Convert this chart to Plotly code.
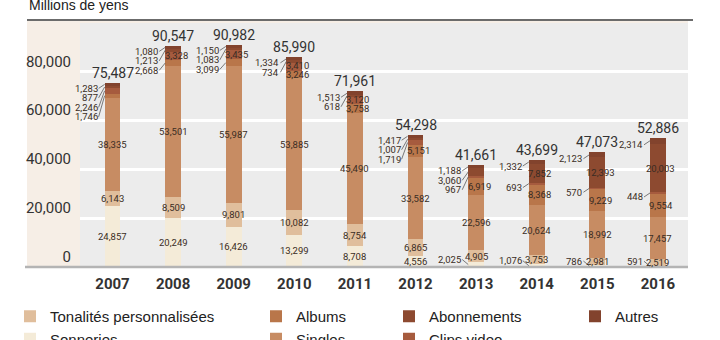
import plotly.graph_objects as go

# ---------------- data ----------------
years = [2007, 2008, 2009, 2010, 2011, 2012, 2013, 2014, 2015, 2016]
year_labels = ["2007", "2008", "2009", "2010", "2011", "2012", "2013", "2014", "2015", "2016"]
sonneries = [24857, 20249, 16426, 13299, 8708, 4556, 2025, 1076, 786, 591]
tonalites = [6143, 8509, 9801, 10082, 8754, 6865, 4905, 3753, 2981, 2519]
singles = [38335, 53501, 55987, 53885, 45490, 33582, 22596, 20624, 18992, 17457]
albums = [1746, 2668, 3099, 3246, 3758, 5151, 6919, 8368, 9229, 9554]
clips = [2246, 3328, 3435, 3410, 3120, 1719, 967, 693, 570, 448]
abonnements = [877, 1213, 1083, 734, 618, 1007, 3060, 7852, 12393, 20003]
autres = [1283, 1080, 1150, 1334, 1513, 1417, 1188, 1332, 2123, 2314]
totals = [75487, 90547, 90982, 85990, 71961, 54298, 41661, 43699, 47073, 52886]
y_ticks = [0, 20000, 40000, 60000, 80000]
y_tick_labels = ["0", "20,000", "40,000", "60,000", "80,000"]

# ---------------- style ----------------
W, H = 720, 340
M_L, M_R, M_T, M_B = 80, 32, 23, 73
PLOT_H = H - M_T - M_B
PW = W - M_L - M_R
YMAX = 100000
X0, X1 = 2006.4637, 2016.4967
BAR_W = 0.26
NUMFONT = "Roboto, sans-serif"
LABEL_COLOR = "#3a2c24"
LEADER_COLOR = "#5a5a5a"

series = [
    ("Sonneries", sonneries, "#f4ebd8", "legend"),
    ("Tonalités personnalisées", tonalites, "#e0be9c", "legend"),
    ("Singles", singles, "#c78c63", "legend2"),
    ("Albums", albums, "#b9764a", "legend2"),
    ("Clips video", clips, "#a65b3e", "legend3"),
    ("Abonnements", abonnements, "#8d4a30", "legend3"),
    ("Autres", autres, "#82432d", "legend4"),
]

fig = go.Figure()
for name, vals, color, lg in series:
    fig.add_trace(go.Bar(
        x=years, y=vals, name=name, width=BAR_W,
        marker=dict(color=color, line=dict(width=0)),
        legend=lg, hoverinfo="skip",
    ))


def ypx(v):
    return M_T + PLOT_H - v * PLOT_H / YMAX


def fmt(v):
    return f"{v:,}"


annotations = []
seg_font = dict(family=NUMFONT, size=9.5, color=LABEL_COLOR)

for i, yr in enumerate(years):
    bar_left = yr - BAR_W / 2
    # lower segments
    base = 0
    lower = [sonneries[i], tonalites[i], singles[i]]
    for k, v in enumerate(lower):
        mid = base + v / 2
        if k == 0 and v < 3100:
            annotations.append(dict(
                x=bar_left, y=mid, text=fmt(v), showarrow=True, arrowhead=0,
                arrowwidth=0.8, arrowcolor=LEADER_COLOR, standoff=0,
                ax=-6, ay=-5, xanchor="right", font=seg_font, borderpad=0))
        else:
            annotations.append(dict(x=yr, y=mid, text=fmt(v), showarrow=False,
                                    font=seg_font, borderpad=0))
        base += v
    # upper segments
    upper = [albums[i], clips[i], abonnements[i], autres[i]]
    mids = []
    for v in upper:
        mids.append(base + v / 2)
        base += v
    # inside labels (bottom-up, keep a minimum gap)
    prev_in = None
    for v, mid in zip(upper, mids):
        if v >= 3100:
            mp = ypx(mid)
            shift = 0
            if prev_in is not None and prev_in - mp < 9.5:
                shift = (prev_in - 9.5) - mp
            prev_in = mp + shift
            annotations.append(dict(x=yr, y=mid, text=fmt(v), showarrow=False,
                                    xshift=3, yshift=-shift, font=seg_font, borderpad=0))
    # leader labels (top-down)
    prev = None
    for v, mid in reversed(list(zip(upper, mids))):
        if v < 3100:
            mp = ypx(mid)
            lp = mp + 4 if prev is None else max(mp + 4, prev + 9.5)
            prev = lp
            annotations.append(dict(
                x=bar_left, y=mid, text=fmt(v), showarrow=True, arrowhead=0,
                arrowwidth=0.8, arrowcolor=LEADER_COLOR, standoff=0,
                ax=-6, ay=lp - mp, xanchor="right", font=seg_font, borderpad=0))
    # total
    annotations.append(dict(x=yr, y=totals[i], text=fmt(totals[i]), showarrow=False,
                            yanchor="bottom", yshift=0,
                            font=dict(family=NUMFONT, size=14, color="#333333")))


def px_x(p):
    return (p - M_L) / PW


def px_y(p):
    return (M_T + PLOT_H - p) / PLOT_H


annotations.append(dict(xref="paper", yref="paper", x=px_x(27), y=px_y(4.5),
                        xanchor="left", yanchor="middle",
                        text="Millions de yens", showarrow=False,
                        font=dict(family="Liberation Sans, Arial, sans-serif", size=14,
                                  color="#222222")))

shapes = [
    # beige label column
    dict(type="rect", xref="paper", yref="paper", x0=px_x(27), x1=0, y0=0, y1=px_y(21),
         fillcolor="#f6eee6", line=dict(width=0), layer="below"),
    # beige top strip
    dict(type="rect", xref="paper", yref="paper", x0=0, x1=1, y0=1, y1=px_y(21),
         fillcolor="#f6eee6", line=dict(width=0), layer="below"),
    # top rule
    dict(type="line", xref="paper", yref="paper", x0=px_x(27), x1=px_x(693),
         y0=px_y(20), y1=px_y(20), line=dict(color="#3a3a3a", width=1.5)),
    # bottom axis line
    dict(type="line", xref="paper", yref="paper", x0=px_x(25), x1=1,
         y0=0, y1=0, line=dict(color="#b4b4b4", width=2.5)),
]

legend_font = dict(family="Liberation Sans, Arial, sans-serif", size=15, color="#222222")


def leg(left_px, top_px):
    return dict(xref="container", yref="container", x=left_px / W, y=1 - top_px / H,
                xanchor="left", yanchor="top", orientation="v", traceorder="reversed",
                font=legend_font, bgcolor="rgba(0,0,0,0)", tracegroupgap=0)


fig.update_layout(
    width=W, height=H,
    margin=dict(l=M_L, r=M_R, t=M_T, b=M_B, pad=0, autoexpand=False),
    paper_bgcolor="white", plot_bgcolor="#ececec",
    barmode="stack", bargap=0,
    showlegend=True,
    legend=leg(10, 300),
    legend2=leg(256, 300),
    legend3=leg(389, 300),
    legend4=leg(575, 300),
    xaxis=dict(range=[X0, X1], tickvals=years, ticktext=year_labels, showgrid=False,
               zeroline=False, showline=False, ticks="", ticklabelstandoff=6,
               tickfont=dict(family="Roboto, sans-serif", size=15, color="#333333",
                             weight="bold"), fixedrange=True),
    yaxis=dict(range=[0, YMAX], tickvals=y_ticks, ticktext=y_tick_labels,
               showgrid=True, gridcolor="white", gridwidth=2.5, zeroline=False,
               showline=False, ticks="", ticklabelposition="outside top",
               ticklabelstandoff=8,
               tickfont=dict(family="Roboto, sans-serif", size=15, color="#333333"),
               fixedrange=True),
    annotations=annotations,
    shapes=shapes,
)

fig.write_html("out.html")
